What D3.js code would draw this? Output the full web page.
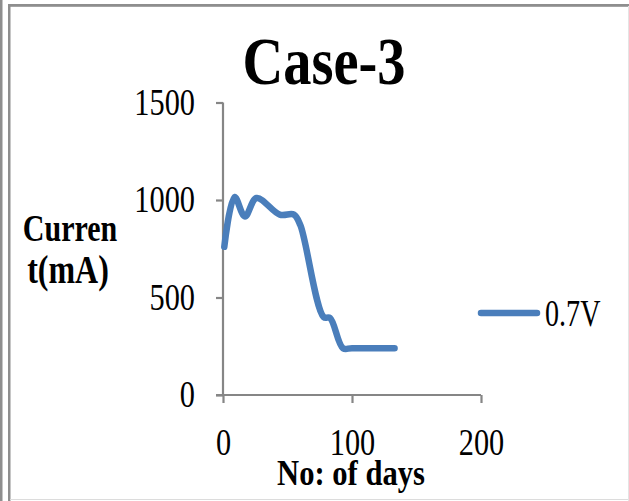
<!DOCTYPE html>
<html>
<head>
<meta charset="utf-8">
<script src="https://cdn.jsdelivr.net/npm/d3@7"></script>
<style>
  html, body { margin: 0; padding: 0; background: #fff; }
  svg { display: block; }
</style>
</head>
<body>
<svg id="chart" width="629" height="501"></svg>
<script>
// data
const days = [1, 9, 17, 26, 44, 55, 60, 78, 83, 93, 100, 133];
const current = [760, 1015, 915, 1010, 925, 925, 870, 400, 395, 240, 240, 240];
const seriesName = "0.7V";
const yTicks = [0, 500, 1000, 1500];
const xTicks = [0, 100, 200];

const svg = d3.select("#chart");
const W = 629, H = 501;
const serif = "'Liberation Serif', 'DejaVu Serif', serif";
const axisGray = "#868686";
const blue = "#4a7ebb";

// frame
svg.append("rect").attr("x", 0).attr("y", 0).attr("width", 2.5).attr("height", H).attr("fill", "#8e8e8e");
svg.append("rect").attr("x", 8).attr("y", 4).attr("width", 2.5).attr("height", H - 4).attr("fill", "#8e8e8e");
svg.append("rect").attr("x", 8).attr("y", 4).attr("width", W - 8).attr("height", 2.8).attr("fill", "#8e8e8e");
svg.append("line").attr("x1", 10).attr("x2", W).attr("y1", 499.5).attr("y2", 499.5).attr("stroke", "#dcdcdc");
svg.append("line").attr("x1", 628.5).attr("x2", 628.5).attr("y1", 6).attr("y2", H).attr("stroke", "#e4e4e4");

// plot scales
const x = d3.scaleLinear().domain([0, 200]).range([223, 481]);
const y = d3.scaleLinear().domain([0, 1500]).range([395, 102.5]);

// text helper: condensed look via horizontal scale
function label(txt, px, py, size, weight, sx, anchor) {
  svg.append("text")
    .attr("transform", `translate(${px},${py}) scale(${sx},1)`)
    .attr("text-anchor", anchor || "middle")
    .attr("font-family", serif)
    .attr("font-size", size)
    .attr("font-weight", weight)
    .attr("fill", "#000")
    .text(txt);
}

// axes
const yAxis = svg.append("g")
  .attr("transform", `translate(${x(0)},0)`)
  .call(d3.axisLeft(y).tickValues(yTicks).tickSize(7).tickPadding(0).tickFormat(d3.format("d")));
yAxis.selectAll("text")
  .attr("x", 0)
  .attr("transform", "translate(-28,0) scale(0.82,1)")
  .attr("font-family", serif)
  .attr("font-size", 37)
  .attr("fill", "#000");

const xAxis = svg.append("g")
  .attr("transform", `translate(0,${y(0)})`)
  .call(d3.axisBottom(x).tickValues(xTicks).tickSize(8).tickFormat(d3.format("d")));
xAxis.selectAll("text")
  .attr("y", 0)
  .attr("dy", 0)
  .attr("transform", "translate(0,60) scale(0.82,1)")
  .attr("font-family", serif)
  .attr("font-size", 37)
  .attr("fill", "#000");

[yAxis, xAxis].forEach(g => {
  g.select(".domain").attr("stroke", axisGray).attr("stroke-width", 2.2);
  g.selectAll(".tick line").attr("stroke", axisGray).attr("stroke-width", 2.2);
});
// d3 domain draws outer ticks; redraw plain axis lines
yAxis.select(".domain").attr("d", `M0,${y(0)}V${y(1500)}`);
xAxis.select(".domain").attr("d", `M${x(0) - 7},0H${x(200)}`);

// series
const pts = days.map((d, i) => [d, current[i]]);
const line = d3.line()
  .x(d => x(d[0]))
  .y(d => y(d[1]))
  .curve(d3.curveCatmullRom.alpha(0.5));

svg.append("path")
  .datum(pts)
  .attr("d", line)
  .attr("fill", "none")
  .attr("stroke", blue)
  .attr("stroke-width", 6.5)
  .attr("stroke-linecap", "round")
  .attr("stroke-linejoin", "round");

// legend
svg.append("line")
  .attr("x1", 481).attr("x2", 537)
  .attr("y1", 313).attr("y2", 313)
  .attr("stroke", blue).attr("stroke-width", 6.5).attr("stroke-linecap", "round");
label(seriesName, 545, 326, 37, "normal", 0.76, "start");

// titles
label("Case-3", 324, 84, 68, "bold", 0.83);
label("Curren", 70, 241, 39, "bold", 0.77);
label("t(mA)", 68, 283, 39, "bold", 0.82);
label("No: of days", 351, 485, 36, "bold", 0.85);
</script>
</body>
</html>
